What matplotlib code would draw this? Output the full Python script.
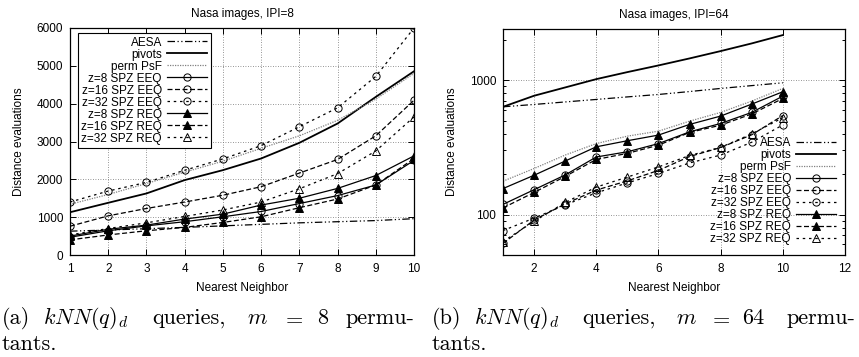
import numpy as np
import matplotlib
matplotlib.use("Agg")
import matplotlib.pyplot as plt
from matplotlib.ticker import LogLocator, NullFormatter, FixedLocator

plt.rcParams["font.family"] = ["Liberation Sans", "DejaVu Sans"]
plt.rcParams["mathtext.fontset"] = "cm"

# nearest neighbor index
k = np.arange(1, 11)

# m = 8 permutants (linear scale)
aesa_8 = [630, 660, 695, 730, 770, 810, 850, 880, 910, 960]
pivots_8 = [1130, 1380, 1627, 1980, 2243, 2551, 2965, 3475, 4179, 4856]
psf_8 = [1340, 1600, 1890, 2190, 2480, 2820, 3150, 3560, 4120, 4800]
eeq8_8 = [470, 640, 770, 880, 1010, 1150, 1360, 1570, 1850, 2500]
eeq16_8 = [760, 1035, 1230, 1400, 1580, 1805, 2165, 2525, 3150, 4090]
eeq32_8 = [1400, 1690, 1920, 2240, 2540, 2890, 3390, 3890, 4720, 6000]
req8_8 = [500, 680, 790, 950, 1080, 1320, 1500, 1760, 2100, 2620]
req16_8 = [400, 530, 640, 730, 860, 1010, 1250, 1480, 1850, 2550]
req32_8 = [530, 700, 850, 1020, 1190, 1400, 1750, 2150, 2750, 3650]

# m = 64 permutants (log scale)
aesa_64 = [633, 659, 688, 718, 750, 782, 822, 867, 910, 955]
pivots_64 = [633, 765, 882, 1017, 1147, 1286, 1450, 1644, 1875, 2163]
psf_64 = [177, 220, 277, 337, 383, 417, 495, 575, 698, 867]
eeq8_64 = [119, 153, 197, 268, 293, 337, 412, 476, 575, 760]
eeq16_64 = [61, 91, 120, 152, 178, 213, 270, 315, 392, 545]
eeq32_64 = [76, 94, 118, 145, 172, 202, 242, 277, 345, 464]
req8_64 = [156, 196, 250, 319, 354, 390, 468, 540, 663, 819]
req16_64 = [112, 146, 192, 257, 285, 328, 408, 462, 560, 730]
req32_64 = [63, 89, 123, 160, 190, 226, 275, 316, 398, 525]

labels = ["AESA", "pivots", "perm PsF",
          "z=8 SPZ EEQ", "z=16 SPZ EEQ", "z=32 SPZ EEQ",
          "z=8 SPZ REQ", "z=16 SPZ REQ", "z=32 SPZ REQ"]

dashdotdot = (0, (6, 2, 1, 2, 1, 2))
ms = 5.2
styles = [
    dict(color="k", linestyle=dashdotdot, linewidth=0.9),
    dict(color="k", linestyle="-", linewidth=1.3),
    dict(color="0.5", linestyle=(0, (1, 1)), linewidth=0.9),
    dict(color="k", linestyle="-", linewidth=0.9, marker="o", mfc="none", ms=ms, mew=0.7),
    dict(color="k", linestyle=(0, (4, 2)), linewidth=0.9, marker="o", mfc="none", ms=ms, mew=0.7),
    dict(color="k", linestyle=(0, (2, 3)), linewidth=0.9, marker="o", mfc="none", ms=ms, mew=0.7),
    dict(color="k", linestyle="-", linewidth=0.9, marker="^", mfc="k", ms=ms, mew=0.7),
    dict(color="k", linestyle=(0, (4, 2)), linewidth=0.9, marker="^", mfc="k", ms=ms, mew=0.7),
    dict(color="k", linestyle=(0, (2, 3)), linewidth=0.9, marker="^", mfc="none", ms=ms, mew=0.7),
]

font_size = 8.5
W, H = 859, 357
fig = plt.figure(figsize=(W / 100, H / 100), dpi=100)


def px_axes(x0, x1, y0, y1):
    return fig.add_axes([x0 / W, 1 - y1 / H, (x1 - x0) / W, (y1 - y0) / H])


def style_axes(ax, title):
    ax.set_title(title, fontsize=font_size, pad=8)
    ax.set_xlabel("Nearest Neighbor", fontsize=font_size, labelpad=5)
    ax.set_ylabel("Distance evaluations", fontsize=font_size, labelpad=8)
    ax.tick_params(axis="both", which="both", direction="in", top=True, right=True,
                   labelsize=font_size, width=0.7)
    ax.tick_params(which="major", length=4)
    ax.tick_params(which="minor", length=2)
    ax.tick_params(axis="x", pad=6)
    ax.tick_params(axis="y", pad=5)
    ax.grid(True, which="major", color="0.45", linestyle=(0, (1, 2)), linewidth=0.6)
    for s in ax.spines.values():
        s.set_linewidth(0.9)


# panel (a)
ax1 = px_axes(70, 414, 28, 255)
series_8 = [aesa_8, pivots_8, psf_8, eeq8_8, eeq16_8, eeq32_8, req8_8, req16_8, req32_8]
for ys, lab, st in zip(series_8, labels, styles):
    ax1.plot(k, ys, label=lab, **st)
ax1.set_xlim(1, 10)
ax1.set_ylim(0, 6000)
ax1.set_xticks(k)
ax1.set_yticks(np.arange(0, 6001, 1000))
style_axes(ax1, "Nasa images, IPI=8")
leg1 = ax1.legend(loc="upper left", bbox_to_anchor=(0.022, 0.978), fontsize=font_size,
                  markerfirst=False, frameon=True, fancybox=False, edgecolor="k",
                  framealpha=1, labelspacing=0.0, handlelength=3.4, handletextpad=0.45,
                  borderpad=0.3, borderaxespad=0)
leg1.get_frame().set_linewidth(0.8)

# panel (b)
ax2 = px_axes(503, 845, 29, 255)
series_64 = [aesa_64, pivots_64, psf_64, eeq8_64, eeq16_64, eeq32_64, req8_64, req16_64, req32_64]
for ys, lab, st in zip(series_64, labels, styles):
    ax2.plot(k, ys, label=lab, **st)
ax2.set_yscale("log")
ax2.set_xlim(1, 12)
ax2.set_ylim(50, 2400)
ax2.set_xticks(np.arange(2, 13, 2))
ax2.yaxis.set_major_locator(FixedLocator([100, 1000]))
ax2.set_yticklabels(["100", "1000"])
ax2.yaxis.set_minor_locator(LogLocator(base=10, subs=np.arange(2, 10)))
ax2.yaxis.set_minor_formatter(NullFormatter())
style_axes(ax2, "Nasa images, IPI=64")
ax2.legend(loc="lower right", bbox_to_anchor=(0.985, 0.03), fontsize=font_size,
           markerfirst=False, frameon=False, labelspacing=0.0, handlelength=3.4,
           handletextpad=0.45, borderpad=0.3, borderaxespad=0)

# captions, word by word to mimic justified LaTeX text
cap_size = 16
line1 = 1 - 324 / H
line2 = 1 - 350 / H
cap_a = [("(a)", 2), (r"$kNN(q)_d$", 43), ("queries,", 152), (r"$m$", 247),
         (r"$=$", 282), ("8", 317), ("permu-", 345)]
cap_b = [("(b)", 432), (r"$kNN(q)_d$", 474), ("queries,", 582), (r"$m$", 676),
         (r"$=$", 709), ("64", 742), ("permu-", 786)]
for word, xp in cap_a + cap_b:
    fam = "DejaVu Sans" if word.startswith("$") else "cmr10"
    fig.text(xp / W, line1, word, fontsize=cap_size, family=fam, va="baseline", ha="left")
fig.text(2 / W, line2, "tants.", fontsize=cap_size, family="cmr10", va="baseline")
fig.text(432 / W, line2, "tants.", fontsize=cap_size, family="cmr10", va="baseline")

fig.savefig("out.png", dpi=100)
